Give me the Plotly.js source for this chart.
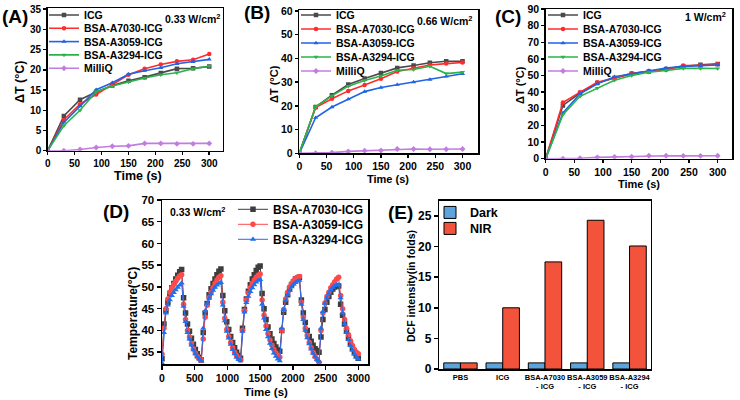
<!DOCTYPE html>
<html>
<head>
<meta charset="utf-8">
<script src="https://cdn.plot.ly/plotly-3.0.1.min.js"></script>
<style>html,body{margin:0;padding:0;background:#fff;}#chart{width:740px;height:400px;}</style>
</head>
<body>
<div id="chart"></div>
<script>
// ---------- DATA ----------
const seriesNames = ['ICG', 'BSA-A7030-ICG', 'BSA-A3059-ICG', 'BSA-A3294-ICG', 'MilliQ'];
const timeAC = [0, 30, 60, 90, 120, 150, 180, 210, 240, 270, 300];

// (A) 0.33 W/cm2
const icgA    = [0, 8.6, 12.6, 14.5, 16.1, 17.3, 18.2, 19.2, 20.3, 20.4, 20.8];
const a7030A  = [0, 7.6, 11.5, 13.9, 16.5, 18.8, 20.3, 21.3, 22.1, 22.5, 23.9];
const a3059A  = [0, 7.0, 11.0, 15.1, 16.8, 18.9, 19.8, 20.5, 21.5, 22.0, 22.6];
const a3294A  = [0, 6.2, 10.0, 14.6, 16.0, 17.0, 18.0, 18.8, 19.3, 20.3, 20.9];
const milliqA = [0, 0, 0.3, 0.8, 1.1, 1.2, 1.8, 1.8, 1.7, 1.7, 1.8];

// (B) 0.66 W/cm2
const icgB    = [0, 19.5, 24.5, 29.0, 31.5, 33.8, 36.0, 37.0, 38.2, 38.8, 38.8];
const a7030B  = [0, 19.3, 23.0, 26.3, 28.8, 31.4, 34.5, 35.8, 37.2, 37.8, 38.3];
const a3059B  = [0, 15.0, 19.5, 22.8, 26.0, 27.7, 28.9, 30.0, 31.1, 32.4, 33.5];
const a3294B  = [0, 19.6, 24.2, 28.3, 30.7, 32.6, 35.0, 35.3, 36.7, 33.6, 34.2];
const milliqB = [0, 0, 0.3, 0.8, 1.1, 1.2, 1.8, 1.8, 1.7, 1.7, 1.8];

// (C) 1 W/cm2
const icgC    = [0, 32.0, 39.5, 45.5, 48.5, 51.0, 52.5, 54.0, 55.5, 56.5, 57.0];
const a7030C  = [0, 33.8, 40.0, 46.0, 48.5, 51.3, 52.5, 53.5, 56.0, 56.0, 56.8];
const a3059C  = [0, 27.5, 39.0, 45.0, 49.3, 51.0, 53.0, 54.5, 55.5, 56.0, 56.3];
const a3294C  = [0, 26.5, 37.5, 42.5, 47.2, 50.0, 52.0, 53.0, 54.3, 54.3, 54.2];
const milliqC = [0, 0, 0.3, 0.8, 1.1, 1.2, 1.8, 1.8, 1.7, 1.7, 1.8];

// (D) heating / cooling cycles
const cycleNames = ['BSA-A7030-ICG', 'BSA-A3059-ICG', 'BSA-A3294-ICG'];
const timeD = [0,30,60,90,120,150,180,210,240,270,300,330,360,390,420,450,480,510,540,570,
  600,630,660,690,720,750,780,810,840,870,900,930,960,990,1020,1050,1080,1110,1140,1170,
  1200,1230,1260,1290,1320,1350,1380,1410,1440,1470,1500,1530,1560,1590,1620,1650,1680,1710,1740,1770,
  1800,1830,1860,1890,1920,1950,1980,2010,2040,2070,2100,2130,2160,2190,2220,2250,2280,2310,2340,2370,
  2400,2430,2460,2490,2520,2550,2580,2610,2640,2670,2700,2730,2760,2790,2820,2850,2880,2910,2940,2970,3000];
const tempA7030 = [33.5,41.5,44.5,46.5,48.5,49.8,50.8,51.8,52.7,53.5,54.0,
  47.5,44.0,41.5,39.8,38.2,36.8,35.6,34.6,33.8,33.2,
  39.5,44.0,46.2,48.2,49.6,50.8,51.8,52.8,53.6,54.1,
  48.0,44.5,42.0,40.2,38.6,37.2,36.0,35.0,34.2,33.6,
  40.5,44.8,47.2,49.0,50.5,51.8,52.8,53.8,54.5,54.8,
  48.5,45.0,42.5,40.8,39.2,38.0,37.0,36.2,35.5,35.2,
  40.0,44.2,46.5,48.2,49.5,50.5,51.2,51.8,52.0,52.2,
  47.0,44.0,41.8,40.0,38.6,37.5,36.6,35.8,35.4,35.0,
  38.5,42.5,44.8,46.5,47.8,48.8,49.5,50.0,50.3,50.2,
  46.0,43.5,41.5,39.8,38.3,37.0,35.9,35.0,34.2,33.6];
const tempA3059 = [34.5,40.5,45.0,47.2,48.8,49.8,50.6,51.3,52.0,52.5,52.8,
  46.0,42.5,40.0,38.5,37.0,35.8,34.8,34.0,33.5,33.2,
  38.0,43.0,45.8,47.5,48.8,49.8,50.8,51.6,52.2,52.6,
  46.5,42.8,40.2,38.6,37.2,36.0,35.0,34.2,33.6,33.2,
  40.0,44.5,47.0,48.6,49.8,50.8,51.6,52.2,52.7,53.0,
  47.0,43.5,41.0,39.2,37.8,36.6,35.6,34.8,34.2,33.8,
  40.0,44.8,47.2,48.8,50.0,50.8,51.4,51.9,52.2,52.4,
  46.5,43.0,40.5,38.8,37.2,36.0,35.0,34.0,33.3,32.7,
  40.0,44.0,46.3,47.8,48.8,49.8,50.5,51.2,51.8,52.2,
  48.0,45.0,42.5,40.5,39.0,37.6,36.5,35.6,35.0,34.6];
const tempA3294 = [32.5,39.5,44.0,45.8,47.0,48.0,48.7,49.3,49.9,50.4,50.9,
  45.5,42.0,39.5,38.0,36.6,35.5,34.6,33.9,33.4,33.0,
  40.5,44.5,46.2,47.4,48.4,49.2,49.9,50.4,50.8,51.0,
  45.8,42.2,39.8,38.2,36.8,35.6,34.6,33.8,33.3,33.0,
  39.8,44.2,46.4,47.8,48.9,49.8,50.5,51.1,51.5,51.7,
  46.0,42.8,40.2,38.5,37.0,35.8,34.8,34.0,33.4,33.0,
  40.5,44.8,46.9,48.2,49.2,50.0,50.6,51.0,51.3,51.5,
  46.0,42.5,40.0,38.3,36.9,35.7,34.7,33.9,33.3,32.9,
  40.5,44.3,46.2,47.5,48.5,49.3,49.9,50.3,50.5,50.5,
  47.5,44.0,41.5,39.5,37.9,36.5,35.4,34.5,33.8,33.4];

// (E) DCF intensity
const groupsE = ['PBS', 'ICG', 'BSA-A7030<br>- ICG', 'BSA-A3059<br>- ICG', 'BSA-A3294<br>- ICG'];
const darkE = [1, 1, 1, 1, 1];
const nirE  = [1, 10, 17.5, 24.3, 20.1];

// ---------- STYLE ----------
const FONT = 'Liberation Sans, Arial, sans-serif';
const colorsAC = ['#4a4a4a', '#ff2b2b', '#1f63e6', '#2bb34a', '#c27ce0'];
const symbolsAC = ['square', 'circle', 'triangle-up', 'triangle-down', 'diamond'];
const colorsD = ['#3d3d3d', '#ff4a4a', '#1f6fef'];
const symbolsD = ['square', 'circle', 'triangle-up'];

const W = 740, H = 400;
const px = v => v / W;
const py = v => 1 - v / H;

const traces = [];
const layout = {
  width: W, height: H,
  margin: {l: 0, r: 0, t: 0, b: 0},
  paper_bgcolor: '#fff', plot_bgcolor: '#fff',
  font: {family: FONT, color: '#000'},
  showlegend: true,
  annotations: []
};

let legendCount = 0;
function addLegend(xLeft, yCenter, size) {
  legendCount++;
  const key = legendCount === 1 ? 'legend' : 'legend' + legendCount;
  layout[key] = {
    x: px(xLeft), y: py(yCenter - 14.5), xanchor: 'left', yanchor: 'top',
    bgcolor: 'rgba(0,0,0,0)', borderwidth: 0,
    font: {family: FONT, size: size, weight: 'bold', color: '#000'}
  };
  return key;
}

function axisStyle(extra) {
  return Object.assign({
    showline: true, linewidth: 1.5, linecolor: '#000', mirror: true,
    ticks: 'outside', ticklen: 3, tickwidth: 1.5, tickcolor: '#000',
    showgrid: false, zeroline: false,
    tickfont: {family: FONT, size: 10.5, weight: 'bold', color: '#000'}
  }, extra);
}

const panelsAC = [
  {ax: '', data: [icgA, a7030A, a3059A, a3294A, milliqA], legX: 44, legY: [15, 28.3, 41.6, 54.9, 68.2]},
  {ax: '2', data: [icgB, a7030B, a3059B, a3294B, milliqB], legX: 296, legY: [15, 29, 43, 57, 71]},
  {ax: '3', data: [icgC, a7030C, a3059C, a3294C, milliqC], legX: 543, legY: [15, 29, 43, 57, 71]}
];
panelsAC.forEach(p => {
  p.data.forEach((ys, i) => {
    traces.push({
      type: 'scatter', mode: 'lines+markers', name: seriesNames[i],
      x: timeAC, y: ys, xaxis: 'x' + p.ax, yaxis: 'y' + p.ax,
      line: {color: colorsAC[i], width: 1.6},
      marker: {color: colorsAC[i], symbol: symbolsAC[i], size: 4.5},
      legend: addLegend(p.legX, p.legY[i], 10.5)
    });
  });
});

// Panel D
[tempA7030, tempA3059, tempA3294].forEach((ys, i) => {
  traces.push({
    type: 'scatter', mode: 'lines+markers', name: cycleNames[i],
    x: timeD, y: ys, xaxis: 'x4', yaxis: 'y4',
    line: {color: colorsD[i], width: 1},
    marker: {color: colorsD[i], symbol: symbolsD[i], size: 5.5},
    legend: addLegend(233, [209.3, 224.3, 239.3][i], 12)
  });
});

// Panel E
traces.push({
  type: 'bar', name: 'Dark', x: groupsE, y: darkE, xaxis: 'x5', yaxis: 'y5',
  marker: {color: '#5da3dc', line: {color: '#000', width: 1}},
  legend: addLegend(430, 212.3, 12.5)
});
traces.push({
  type: 'bar', name: 'NIR', x: groupsE, y: nirE, xaxis: 'x5', yaxis: 'y5',
  marker: {color: '#f4533b', line: {color: '#000', width: 1}},
  legend: addLegend(430, 228.3, 12.5)
});
layout.barmode = 'group';
layout.bargap = 0.21;
layout.bargroupgap = 0;

// Axes A
layout.xaxis = axisStyle({domain: [px(47.7), px(222.7)], anchor: 'y', range: [0, 325], dtick: 50, tick0: 0,
  tickfont: {family: FONT, size: 10, weight: 'bold', color: '#000'}});
layout.yaxis = axisStyle({domain: [py(150.7), py(8)], anchor: 'x', range: [0, 35.3], dtick: 5, tick0: 0,
  tickfont: {family: FONT, size: 10, weight: 'bold', color: '#000'}});
// Axes B
layout.xaxis2 = axisStyle({domain: [px(299.3), px(478.3)], anchor: 'y2', range: [0, 329], dtick: 50, tick0: 0});
layout.yaxis2 = axisStyle({domain: [py(153.3), py(10)], anchor: 'x2', range: [0, 60.4], dtick: 10, tick0: 0});
// Axes C
layout.xaxis3 = axisStyle({domain: [px(545.7), px(732)], anchor: 'y3', range: [0, 325], dtick: 50, tick0: 0});
layout.yaxis3 = axisStyle({domain: [py(158.7), py(9)], anchor: 'x3', range: [0, 90], dtick: 10, tick0: 0});
// Axes D
layout.xaxis4 = axisStyle({domain: [px(162), px(368.3)], anchor: 'y4', range: [0, 3153], dtick: 500, tick0: 0,
  ticklen: 4, tickfont: {family: FONT, size: 10.5, weight: 'bold', color: '#000'}});
layout.yaxis4 = axisStyle({domain: [py(364.3), py(200)], anchor: 'x4', range: [32.2, 70], dtick: 5, tick0: 0,
  ticklen: 4, tickfont: {family: FONT, size: 11.5, weight: 'bold', color: '#000'}});
// Axes E
layout.xaxis5 = axisStyle({domain: [px(439.3), px(650.7)], anchor: 'y5', ticks: '', tickangle: 0,
  tickfont: {family: FONT, size: 7.5, weight: 'bold', color: '#000'}});
layout.yaxis5 = axisStyle({domain: [py(369), py(200.7)], anchor: 'x5', range: [0, 27.5], dtick: 5, tick0: 0,
  ticklen: 4, tickfont: {family: FONT, size: 12, weight: 'bold', color: '#000'}});

// Axis titles (as text annotations placed beside each axis)
function addText(text, xc, yc, size, angle) {
  layout.annotations.push({text: text, xref: 'paper', yref: 'paper', x: px(xc), y: py(yc),
    xanchor: 'center', yanchor: 'middle', showarrow: false, textangle: angle || 0,
    font: {family: FONT, size: size, weight: 'bold', color: '#000'}});
}
addText('Time (s)', 138, 176, 12.5);
addText('ΔT (°C)', 20, 82, 12.5, -90);
addText('Time (s)', 388, 178.5, 11);
addText('ΔT (°C)', 274, 84, 11, -90);
addText('Time (s)', 639, 184.5, 11);
addText('ΔT (°C)', 520, 85, 11, -90);
addText('Time (s)', 266, 392, 11.5);
addText('Temperature(°C)', 133, 314, 12, -90);
addText('DCF intensity(in folds)', 411, 286, 10.5, -90);

// Panel labels and power notes
[['(A)', 15, 16], ['(B)', 257, 12], ['(C)', 508, 16], ['(D)', 116, 211], ['(E)', 400, 212]].forEach(l => {
  addText(l[0], l[1], l[2], 19);
});
[['0.33 W/cm<sup>2</sup>', 192, 18], ['0.66 W/cm<sup>2</sup>', 444, 20], ['1 W/cm<sup>2</sup>', 705, 17], ['0.33 W/cm<sup>2</sup>', 197, 211]].forEach(l => {
  addText(l[0], l[1], l[2], 10.5);
});

Plotly.newPlot('chart', traces, layout, {displayModeBar: false, staticPlot: true});
</script>
</body>
</html>
